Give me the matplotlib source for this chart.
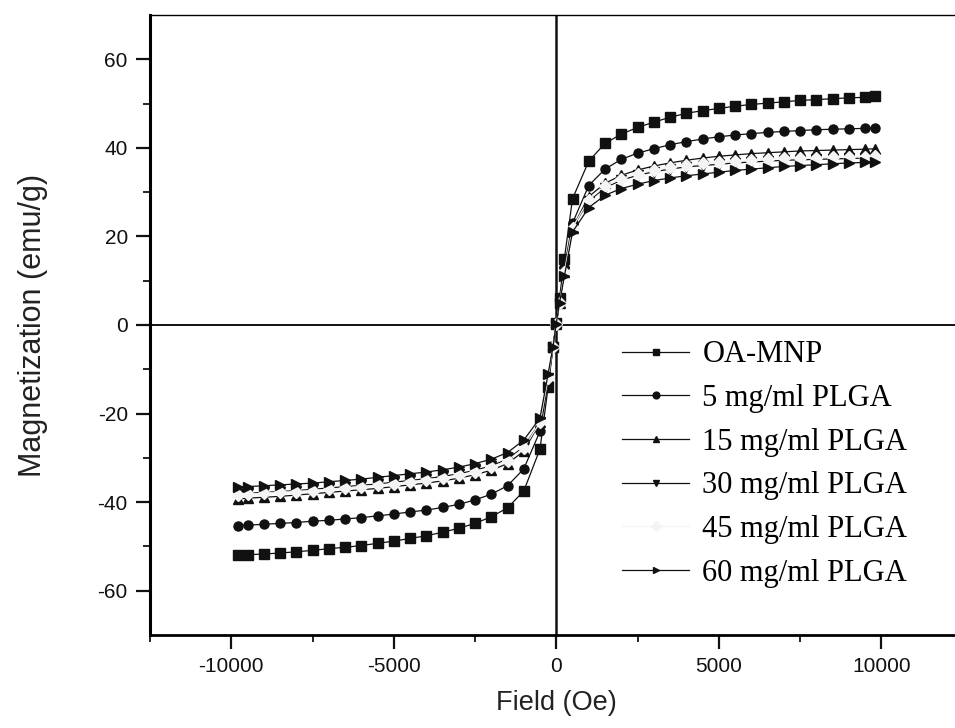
import matplotlib
matplotlib.use("Agg")
import matplotlib.pyplot as plt
import numpy as np

plt.rcParams['axes.unicode_minus'] = False

# Field values (Oe)
H = [-9800, -9500, -9000, -8500, -8000, -7500, -7000, -6500, -6000, -5500, -5000,
     -4500, -4000, -3500, -3000, -2500, -2000, -1500, -1000, -500, -250, -100,
     0, 100, 250, 500, 1000, 1500, 2000, 2500, 3000, 3500, 4000, 4500, 5000,
     5500, 6000, 6500, 7000, 7500, 8000, 8500, 9000, 9500, 9800]

labels = ["OA-MNP", "5 mg/ml PLGA", "15 mg/ml PLGA", "30 mg/ml PLGA",
          "45 mg/ml PLGA", "60 mg/ml PLGA"]

M_oa = [-52.0, -51.9, -51.7, -51.5, -51.2, -50.9, -50.5, -50.2, -49.8, -49.3, -48.8,
        -48.2, -47.6, -46.8, -45.9, -44.8, -43.3, -41.3, -37.5, -28.0, -14.0, -5.0,
        0.5, 6.0, 15.0, 28.5, 37.0, 41.0, 43.1, 44.6, 45.8, 46.9, 47.8, 48.4, 48.9,
        49.4, 49.8, 50.1, 50.4, 50.7, 50.9, 51.1, 51.3, 51.4, 51.6]
M_5 = [-45.3, -45.2, -45.0, -44.8, -44.6, -44.3, -44.1, -43.8, -43.5, -43.1, -42.7,
       -42.2, -41.8, -41.2, -40.5, -39.5, -38.2, -36.3, -32.5, -24.0, -13.0, -5.0,
       0.3, 5.0, 13.0, 23.0, 31.5, 35.2, 37.4, 38.8, 39.8, 40.7, 41.4, 42.0, 42.5,
       42.9, 43.2, 43.5, 43.7, 43.9, 44.1, 44.2, 44.3, 44.4, 44.5]
M_15 = [-39.3, -39.1, -38.9, -38.7, -38.4, -38.1, -37.8, -37.5, -37.2, -36.9, -36.5,
        -36.1, -35.7, -35.2, -34.6, -33.8, -32.8, -31.3, -28.5, -22.0, -12.0, -5.0,
        0.3, 5.0, 12.0, 22.0, 29.0, 32.0, 33.8, 35.0, 35.9, 36.6, 37.2, 37.7, 38.1,
        38.4, 38.7, 38.9, 39.1, 39.3, 39.4, 39.5, 39.6, 39.7, 39.8]
M_30 = [-38.2, -38.0, -37.8, -37.6, -37.4, -37.1, -36.8, -36.5, -36.2, -35.9, -35.5,
        -35.1, -34.7, -34.2, -33.6, -32.8, -31.8, -30.3, -27.5, -22.0, -12.0, -5.0,
        0.3, 5.0, 12.0, 22.0, 28.0, 31.0, 32.7, 33.8, 34.6, 35.2, 35.7, 36.0, 36.3,
        36.6, 36.8, 37.0, 37.2, 37.3, 37.4, 37.5, 37.6, 37.7, 37.8]
M_45 = [-38.3, -38.2, -38.0, -37.8, -37.6, -37.4, -37.1, -36.8, -36.5, -36.2, -35.8,
        -35.4, -35.0, -34.5, -33.9, -33.1, -32.1, -30.6, -27.8, -22.0, -12.0, -5.0,
        0.3, 5.0, 12.0, 22.0, 28.3, 31.3, 33.0, 34.2, 35.0, 35.6, 36.1, 36.5, 36.8,
        37.1, 37.3, 37.5, 37.6, 37.7, 37.8, 37.9, 38.0, 38.0, 38.1]
M_60 = [-36.6, -36.5, -36.3, -36.1, -35.9, -35.7, -35.4, -35.1, -34.8, -34.4, -34.0,
        -33.6, -33.2, -32.7, -32.1, -31.3, -30.3, -28.8, -26.0, -21.0, -11.0, -5.0,
        0.3, 5.0, 11.0, 21.0, 26.5, 29.3, 30.8, 31.8, 32.6, 33.2, 33.7, 34.1, 34.5,
        34.9, 35.2, 35.5, 35.8, 36.0, 36.2, 36.4, 36.6, 36.7, 36.8]

series = [M_oa, M_5, M_15, M_30, M_45, M_60]
markers = ['s', 'o', '^', 'v', 'D', '>']
colors = ['#111111', '#111111', '#111111', '#111111', '#f4f4f4', '#111111']

fig = plt.figure(figsize=(9.55, 7.28), dpi=100)
ax = fig.add_axes([150/955, 93/728, 812.5/955, 620/728])

ax.axvline(0, color='#111111', lw=1.8, zorder=1)
ax.axhline(0, color='#111111', lw=1.4, zorder=1)

for M, mk, c, lab in zip(series, markers, colors, labels):
    ax.plot(H, M, marker=mk, color=c, mfc=c, mec=c, ms=6.5, lw=0.9, label=lab, zorder=3)

ax.set_xlim(-12500, 12500)
ax.set_ylim(-70, 70)
ax.set_xticks([-10000, -5000, 0, 5000, 10000])
ax.set_xticks([-12500, -7500, -2500, 2500, 7500, 12500], minor=True)
ax.set_yticks([-60, -40, -20, 0, 20, 40, 60])
ax.set_yticks([-50, -30, -10, 10, 30, 50], minor=True)

ax.spines['right'].set_visible(False)
ax.spines['left'].set_linewidth(2.2)
ax.spines['bottom'].set_linewidth(2.0)
ax.spines['top'].set_linewidth(1.0)

ax.tick_params(axis='both', which='major', direction='out', length=10, width=1.6,
               labelsize=15, colors='#111111', pad=6)
ax.tick_params(axis='both', which='minor', direction='out', length=5, width=1.2)
for t in ax.get_xticklabels() + ax.get_yticklabels():
    t.set_fontfamily('Liberation Sans')

ax.set_xlabel('Field (Oe)', fontsize=19.5, family='Liberation Sans', labelpad=10, color='#222222')
ax.set_ylabel('Magnetization (emu/g)', fontsize=22, family='Liberation Sans', labelpad=36, color='#222222')

leg = fig.legend(loc='center left', bbox_to_anchor=(622/955, 1 - 464/728),
                 frameon=False, prop={'family': 'Liberation Serif', 'size': 22},
                 handlelength=2.2, handletextpad=0.43, labelspacing=0.48, borderpad=0,
                 borderaxespad=0, markerscale=0.75)

fig.savefig('out.png', dpi=100)
